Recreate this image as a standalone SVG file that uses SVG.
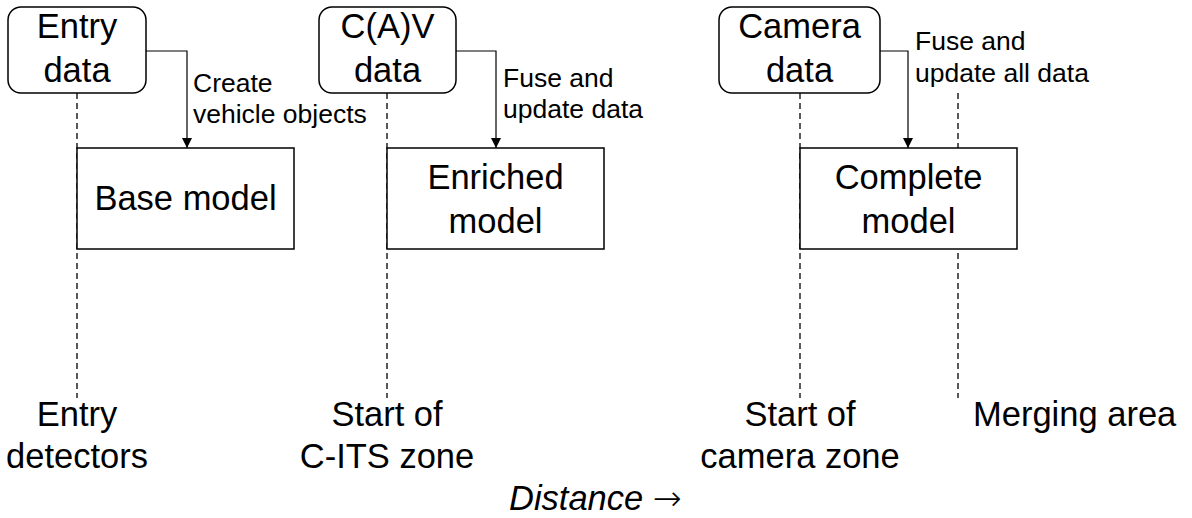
<svg xmlns="http://www.w3.org/2000/svg" width="1192" height="518" viewBox="0 0 1192 518">
  <style>
    .bg { fill: #ffffff; }
    .src { fill: #ffffff; stroke: #000000; stroke-width: 1.5; }
    .model { fill: #ffffff; stroke: #000000; stroke-width: 1.5; }
    .guide { fill: none; stroke: #000000; stroke-width: 1.3; stroke-dasharray: 6 4; }
    .flow { fill: none; stroke: #000000; stroke-width: 1.2; }
    text { font-family: "Liberation Sans", Arial, sans-serif; fill: #000000; }
    .big { font-size: 34.5px; }
    .mid { font-size: 26.5px; }
    .c { text-anchor: middle; }
    .it { font-style: italic; }
    .arrow { font-family: "DejaVu Sans", sans-serif; font-style: normal; font-weight: 300; }
  </style>
  <defs>
    <marker id="head" viewBox="0 0 10 10" refX="10" refY="5" markerWidth="10" markerHeight="10" markerUnits="userSpaceOnUse" orient="auto">
      <path d="M0,0 L10,5 L0,10 z" fill="#000000"/>
    </marker>
  </defs>
  <rect class="bg" x="0" y="0" width="1192" height="518"/>

  <!-- distance guides -->
  <g id="guides">
    <line class="guide" x1="77" y1="93" x2="77" y2="398"/>
    <line class="guide" x1="387" y1="93" x2="387" y2="398"/>
    <line class="guide" x1="800" y1="93" x2="800" y2="398"/>
    <line class="guide" x1="958" y1="93" x2="958" y2="398"/>
  </g>

  <!-- connectors -->
  <g id="connectors">
    <polyline class="flow" points="146,51 187,51 187,148" marker-end="url(#head)"/>
    <polyline class="flow" points="456,51 496,51 496,148" marker-end="url(#head)"/>
    <polyline class="flow" points="880,51 908,51 908,148" marker-end="url(#head)"/>
    <text class="mid" x="193" y="92">Create</text>
    <text class="mid" x="193" y="123">vehicle objects</text>
    <text class="mid" x="503" y="87">Fuse and</text>
    <text class="mid" x="503" y="118">update data</text>
    <text class="mid" x="915" y="50">Fuse and</text>
    <text class="mid" x="915" y="82">update all data</text>
  </g>

  <g id="entry-data">
    <rect class="src" x="8" y="7" width="138" height="86" rx="13"/>
    <text class="big c" x="77" y="38">Entry</text>
    <text class="big c" x="77" y="82">data</text>
  </g>
  <g id="cav-data">
    <rect class="src" x="319" y="7" width="137" height="86" rx="13"/>
    <text class="big c" x="387.5" y="38">C(A)V</text>
    <text class="big c" x="387.5" y="82">data</text>
  </g>
  <g id="camera-data">
    <rect class="src" x="719" y="7" width="161" height="86" rx="13"/>
    <text class="big c" x="799.5" y="38">Camera</text>
    <text class="big c" x="799.5" y="82">data</text>
  </g>

  <g id="base-model">
    <rect class="model" x="77" y="148" width="217" height="101"/>
    <text class="big c" x="185.5" y="210">Base model</text>
  </g>
  <g id="enriched-model">
    <rect class="model" x="387" y="148" width="217" height="101"/>
    <text class="big c" x="495.5" y="189">Enriched</text>
    <text class="big c" x="495.5" y="233">model</text>
  </g>
  <g id="complete-model">
    <rect class="model" x="800" y="148" width="217" height="101"/>
    <text class="big c" x="908.5" y="189">Complete</text>
    <text class="big c" x="908.5" y="233">model</text>
  </g>

  <g id="entry-detectors">
    <text class="big c" x="77" y="426">Entry</text>
    <text class="big c" x="77" y="468">detectors</text>
  </g>
  <g id="cits-zone">
    <text class="big c" x="387" y="426">Start of</text>
    <text class="big c" x="387" y="468">C-ITS zone</text>
  </g>
  <g id="camera-zone">
    <text class="big c" x="800" y="426">Start of</text>
    <text class="big c" x="800" y="468">camera zone</text>
  </g>
  <g id="merging-area">
    <text class="big" x="973" y="426">Merging area</text>
  </g>

  <g id="axis">
    <text class="big it" x="509" y="510">Distance <tspan class="arrow">→</tspan></text>
  </g>
</svg>
